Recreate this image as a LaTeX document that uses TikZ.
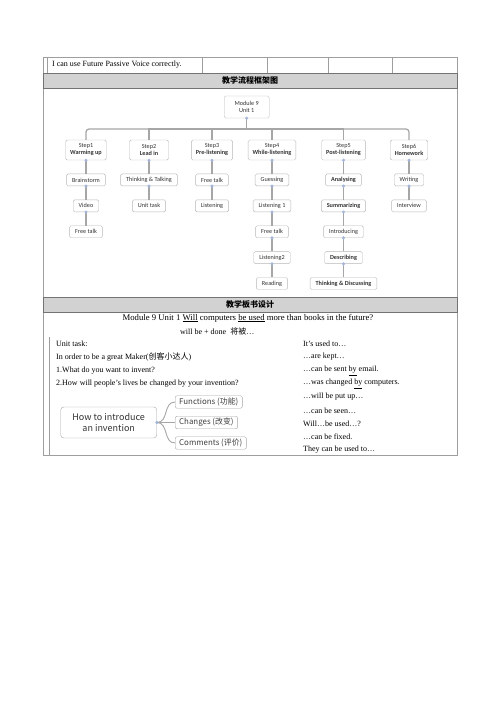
\documentclass[tikz,border=0pt]{standalone}
\usepackage{fontspec}
\setmainfont{Liberation Serif}
\newfontfamily\flowfont{Carlito}
\newfontfamily\cjk{Noto Sans CJK SC}
\usetikzlibrary{positioning}
\definecolor{dotblue}{HTML}{A4B6DC}
\definecolor{bandgray}{HTML}{D2D2D2}

\begin{document}
\begin{tikzpicture}[
        x=1pt, y=-1pt,
        node distance=13.5pt,
        grid/.style={draw=black!38, line width=1pt},
        band/.style={draw=black!55, fill=bandgray, line width=0.8pt},
        head/.style={font=\cjk\bfseries\fontsize{8}{9}\selectfont},
        txt/.style={anchor=west, inner sep=0pt, font=\fontsize{8}{9.5}\selectfont},
        box/.style={
            draw=black!28,
            rounded corners=1.5pt,
            fill=white,
            minimum height=12pt,
            inner xsep=5.5pt,
            inner ysep=0pt,
            text=black!80,
            font=\flowfont\fontsize{6.2}{7}\selectfont
        },
        stepbox/.style={box, minimum height=20pt, inner xsep=4.5pt, align=center},
        link/.style={draw=black!35, line width=1.25pt},
        mroot/.style={
            draw=black!35,
            rounded corners=3pt,
            align=center,
            minimum width=96pt,
            minimum height=31pt,
            text=black!80,
            font=\cjk\fontsize{9}{10.5}\selectfont
        },
        mleaf/.style={
            draw=black!35,
            rounded corners=2pt,
            anchor=west,
            minimum height=12.5pt,
            inner xsep=4pt,
            inner ysep=0pt,
            text=black!75,
            font=\cjk\fontsize{7.9}{8}\selectfont
        },
        branch/.style={draw=black!35, line width=0.9pt}
    ]
        \fill[white] (0,0) rectangle (500,707);
        \useasboundingbox (0,0) rectangle (500,707);

        % table frame
        \draw[grid] (43,57) rectangle (457,455);
        \draw[grid] (47,57) -- (47,73);
        \draw[grid] (202,57) -- (202,73);
        \draw[grid] (267,57) -- (267,73);
        \draw[grid] (328,57) -- (328,73);
        \draw[grid] (392,57) -- (392,73);
        \draw[grid] (49,337) -- (49,455);
        \draw[band] (43,73) rectangle (457,88);
        \draw[band] (43,297) rectangle (457,312);

        \node[txt] (goal) at (52,65) {I can use Future Passive Voice correctly.};
        \node[head] (flowhead) at (250,80.5) {教学流程框架图};
        \node[head] (boardhead) at (250,304.5) {教学板书设计};

        % flow chart
        \node[stepbox, minimum width=45pt, minimum height=22pt] (mod) at (246.7,107) {Module 9\\Unit 1};
        \node[stepbox] (s1) at (86,150) {Step1\\\textbf{Warming up}};
        \node[stepbox, minimum width=39pt] (s2) at (149,150) {Step2\\\textbf{Lead in}};
        \node[stepbox] (s3) at (212,150) {Step3\\\textbf{Pre-listening}};
        \node[stepbox] (s4) at (272,150) {Step4\\\textbf{While-listening}};
        \node[stepbox] (s5) at (343.5,150) {Step5\\\textbf{Post-listening}};
        \node[stepbox] (s6) at (409,150) {Step6\\\textbf{Homework}};

        \node[box, below=of s1] (brain) {Brainstorm};
        \node[box, below=of brain] (video) {Video};
        \node[box, below=of video] (talk1) {Free talk};
        \node[box, below=of s2] (think) {Thinking \& Talking};
        \node[box, below=of think] (task) {Unit task};
        \node[box, below=of s3] (talk3) {Free talk};
        \node[box, below=of talk3] (listen) {Listening};
        \node[box, below=of s4] (guess) {Guessing};
        \node[box, below=of guess] (listen1) {Listening 1};
        \node[box, below=of listen1] (talk4) {Free talk};
        \node[box, below=of talk4] (listen2) {Listening2};
        \node[box, below=of listen2] (read) {Reading};
        \node[box, below=of s5] (analyse) {\textbf{Analysing}};
        \node[box, below=of analyse] (summ) {\textbf{Summarizing}};
        \node[box, below=of summ] (intro) {Introducing};
        \node[box, below=of intro] (descr) {\textbf{Describing}};
        \node[box, below=of descr] (discuss) {\textbf{Thinking \& Discussing}};
        \node[box, below=of s6] (write) {Writing};
        \node[box, below=of write] (inter) {Interview};

        \coordinate (bus) at (246.7,129);
        \draw[link] (mod.south) -- (bus);
        \draw[link, rounded corners=3pt] (bus) -| (s1.north);
        \draw[link] (bus) -| (s2.north);
        \draw[link] (bus) -| (s3.north);
        \draw[link] (bus) -| (s4.north);
        \draw[link] (bus) -| (s5.north);
        \draw[link, rounded corners=3pt] (bus) -| (s6.north);

        \draw[link] (s1.south) -- (brain.north);
        \draw[link] (brain.south) -- (video.north);
        \draw[link] (video.south) -- (talk1.north);
        \draw[link] (s2.south) -- (think.north);
        \draw[link] (think.south) -- (task.north);
        \draw[link] (s3.south) -- (talk3.north);
        \draw[link] (talk3.south) -- (listen.north);
        \draw[link] (s4.south) -- (guess.north);
        \draw[link] (guess.south) -- (listen1.north);
        \draw[link] (listen1.south) -- (talk4.north);
        \draw[link] (talk4.south) -- (listen2.north);
        \draw[link] (listen2.south) -- (read.north);
        \draw[link] (s5.south) -- (analyse.north);
        \draw[link] (analyse.south) -- (summ.north);
        \draw[link] (summ.south) -- (intro.north);
        \draw[link] (intro.south) -- (descr.north);
        \draw[link] (descr.south) -- (discuss.north);
        \draw[link] (s6.south) -- (write.north);
        \draw[link] (write.south) -- (inter.north);

        \fill[dotblue] (mod.south) circle (1.7);
        \fill[dotblue] (s1.south) circle (1.7);
        \fill[dotblue] (s2.south) circle (1.7);
        \fill[dotblue] (s3.south) circle (1.7);
        \fill[dotblue] (s4.south) circle (1.7);
        \fill[dotblue] (s5.south) circle (1.7);
        \fill[dotblue] (s6.south) circle (1.7);
        \fill[dotblue] (brain.south) circle (1.7);
        \fill[dotblue] (video.south) circle (1.7);
        \fill[dotblue] (think.south) circle (1.7);
        \fill[dotblue] (talk3.south) circle (1.7);
        \fill[dotblue] (guess.south) circle (1.7);
        \fill[dotblue] (listen1.south) circle (1.7);
        \fill[dotblue] (talk4.south) circle (1.7);
        \fill[dotblue] (listen2.south) circle (1.7);
        \fill[dotblue] (analyse.south) circle (1.7);
        \fill[dotblue] (summ.south) circle (1.7);
        \fill[dotblue] (intro.south) circle (1.7);
        \fill[dotblue] (descr.south) circle (1.7);
        \fill[dotblue] (write.south) circle (1.7);

        % board design
        \node[txt, anchor=center, font=\fontsize{8.7}{10}\selectfont] (title) at (248,318) {Module 9 Unit 1 \underline{Will} computers \underline{be used} more than books in the future?};
        \node[txt] (rule) at (180,331) {will be + done\enspace{\cjk 将被}…};

        \node[txt] (unittask) at (56,344) {Unit task:};
        \node[txt] (maker) at (56,357) {In order to be a great Maker({\cjk 创客小达人})};
        \node[txt] (q1) at (56,371) {1.What do you want to invent?};
        \node[txt] (q2) at (56,384) {2.How will people’s lives be changed by your invention?};

        \node[txt] (e1) at (303,344) {It’s used to…};
        \node[txt] (e2) at (303,357) {…are kept…};
        \node[txt] (e3) at (303,371) {…can be sent \underline{by} email.};
        \node[txt] (e4) at (303,384) {…was changed \underline{by} computers.};
        \node[txt] (e5) at (303,397) {…will be put up…};
        \node[txt] (e6) at (303,411) {…can be seen…};
        \node[txt] (e7) at (303,424) {Will…be used…?};
        \node[txt] (e8) at (303,437) {…can be fixed.};
        \node[txt] (e9) at (303,450) {They can be used to…};

        % mind map
        \node[mroot] (root) at (108.7,422.5) {How to introduce\\an invention};
        \node[mleaf] (func) at (175,402) {Functions (功能)};
        \node[mleaf] (chg) at (175,422.5) {Changes (改变)};
        \node[mleaf] (comm) at (175,443) {Comments (评价)};
        \draw[branch] (root.east) .. controls +(12,0) and +(-12,0) .. (func.west);
        \draw[branch] (root.east) -- (chg.west);
        \draw[branch] (root.east) .. controls +(12,0) and +(-12,0) .. (comm.west);
        \fill[dotblue] (root.east) circle (1.7);
    \end{tikzpicture}
\end{document}
